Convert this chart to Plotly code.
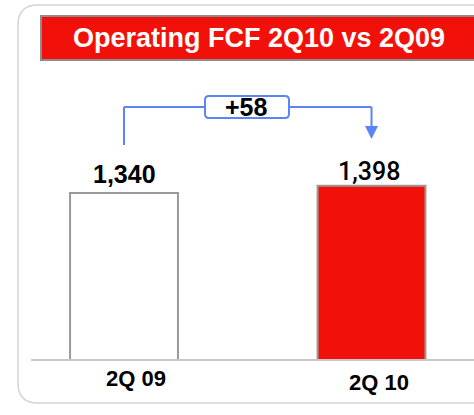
import plotly.graph_objects as go

categories = ["2Q 09", "2Q 10"]
values = [1340, 1398]
bar_colors = ["#ffffff", "#f2110a"]
value_weight = [700, 500]
title_text = "Operating FCF 2Q10 vs 2Q09"
delta_text = "+58"

W, H = 474, 415

def px(x):
    return x / W

def py(y):
    return 1 - y / H

def rounded_path(x0, y0, x1, y1, r):
    pts = []
    pts.append(f"M {px(x0 + r)},{py(y0)}")
    pts.append(f"L {px(x1 - r)},{py(y0)}")
    pts.append(f"Q {px(x1)},{py(y0)} {px(x1)},{py(y0 + r)}")
    pts.append(f"L {px(x1)},{py(y1 - r)}")
    pts.append(f"Q {px(x1)},{py(y1)} {px(x1 - r)},{py(y1)}")
    pts.append(f"L {px(x0 + r)},{py(y1)}")
    pts.append(f"Q {px(x0)},{py(y1)} {px(x0)},{py(y1 - r)}")
    pts.append(f"L {px(x0)},{py(y0 + r)}")
    pts.append(f"Q {px(x0)},{py(y0)} {px(x0 + r)},{py(y0)}")
    pts.append("Z")
    return " ".join(pts)

fig = go.Figure()
fig.add_trace(go.Bar(
    x=[0, 1], y=values,
    width=0.436,
    marker=dict(color=bar_colors, line=dict(color="#9a9a9a", width=2)),
    hoverinfo="skip",
))

FONT = "Liberation Sans, Arial, sans-serif"
FONT_MED = "Roboto, Liberation Sans, Arial, sans-serif"

shapes = [
    dict(type="path", xref="paper", yref="paper",
         path=rounded_path(18, 5, 500, 403, 20),
         line=dict(color="#d4d4d4", width=1.5), fillcolor="rgba(0,0,0,0)", layer="below"),
    dict(type="rect", xref="paper", yref="paper",
         x0=px(41), x1=px(480), y0=py(60), y1=py(16),
         fillcolor="#f2110a", line=dict(color="#8c8c8c", width=2), layer="below"),
    dict(type="line", xref="paper", yref="y", x0=px(31), x1=1.02, y0=0, y1=0,
         line=dict(color="#c8c8c8", width=2)),
    dict(type="line", xref="x", yref="paper", x0=0, x1=0, y0=py(145), y1=py(107),
         line=dict(color="#5b84f5", width=2)),
    dict(type="line", xref="x", yref="paper", x0=0, x1=1, y0=py(107), y1=py(107),
         line=dict(color="#5b84f5", width=2)),
    dict(type="line", xref="x", yref="paper", x0=1, x1=1, y0=py(107), y1=py(132),
         line=dict(color="#5b84f5", width=2)),
    dict(type="path", xref="paper", yref="paper",
         path=rounded_path(205, 96, 289, 118, 4),
         line=dict(color="#5b84f5", width=2), fillcolor="#ffffff"),
]

annotations = [
    dict(text=f"<b>{title_text}</b>", xref="paper", yref="paper", x=px(259), y=py(38),
         showarrow=False, font=dict(family=FONT, size=27, color="#ffffff"),
         xanchor="center", yanchor="middle"),
    dict(text=f"<b>{delta_text}</b>", xref="paper", yref="paper", x=px(247), y=py(107),
         showarrow=False, font=dict(family=FONT, size=25, color="#000000"),
         xanchor="center", yanchor="middle"),
    dict(text="", xref="x", yref="paper", x=1, y=py(139), ax=0, ay=-14,
         showarrow=True, arrowhead=2, arrowsize=1.3, arrowwidth=2, arrowcolor="#5b84f5"),
]

label_pos = [(12, 378), (7, 382)]
val_shifts = [3, -2]
for i, (c, v) in enumerate(zip(categories, values)):
    w = value_weight[i]
    annotations.append(dict(
        text=f"{v:,}", x=i, y=v, xref="x", yref="y", yshift=val_shifts[i],
        xshift=-3 if i == 1 else 0,
        showarrow=False, xanchor="center", yanchor="bottom",
        font=dict(family=FONT if w == 700 else FONT_MED, size=25, color="#000000", weight=w)))
    annotations.append(dict(
        text=f"<b>{c}</b>", x=i, xref="x", yref="paper", y=py(label_pos[i][1]),
        xshift=label_pos[i][0], showarrow=False, xanchor="center", yanchor="middle",
        font=dict(family=FONT, size=22, color="#000000")))

fig.update_layout(
    width=W, height=H,
    margin=dict(l=0, r=0, t=0, b=0),
    paper_bgcolor="#ffffff", plot_bgcolor="rgba(0,0,0,0)",
    showlegend=False,
    xaxis=dict(range=[-0.501, 1.414], visible=False, fixedrange=True),
    yaxis=dict(range=[-441, 2889], visible=False, fixedrange=True),
    shapes=shapes,
    annotations=annotations,
)

fig.write_html(
    "out.html",
    config={"displayModeBar": False},
    post_script="document.body.style.margin='0';document.body.style.overflow='hidden';",
)
